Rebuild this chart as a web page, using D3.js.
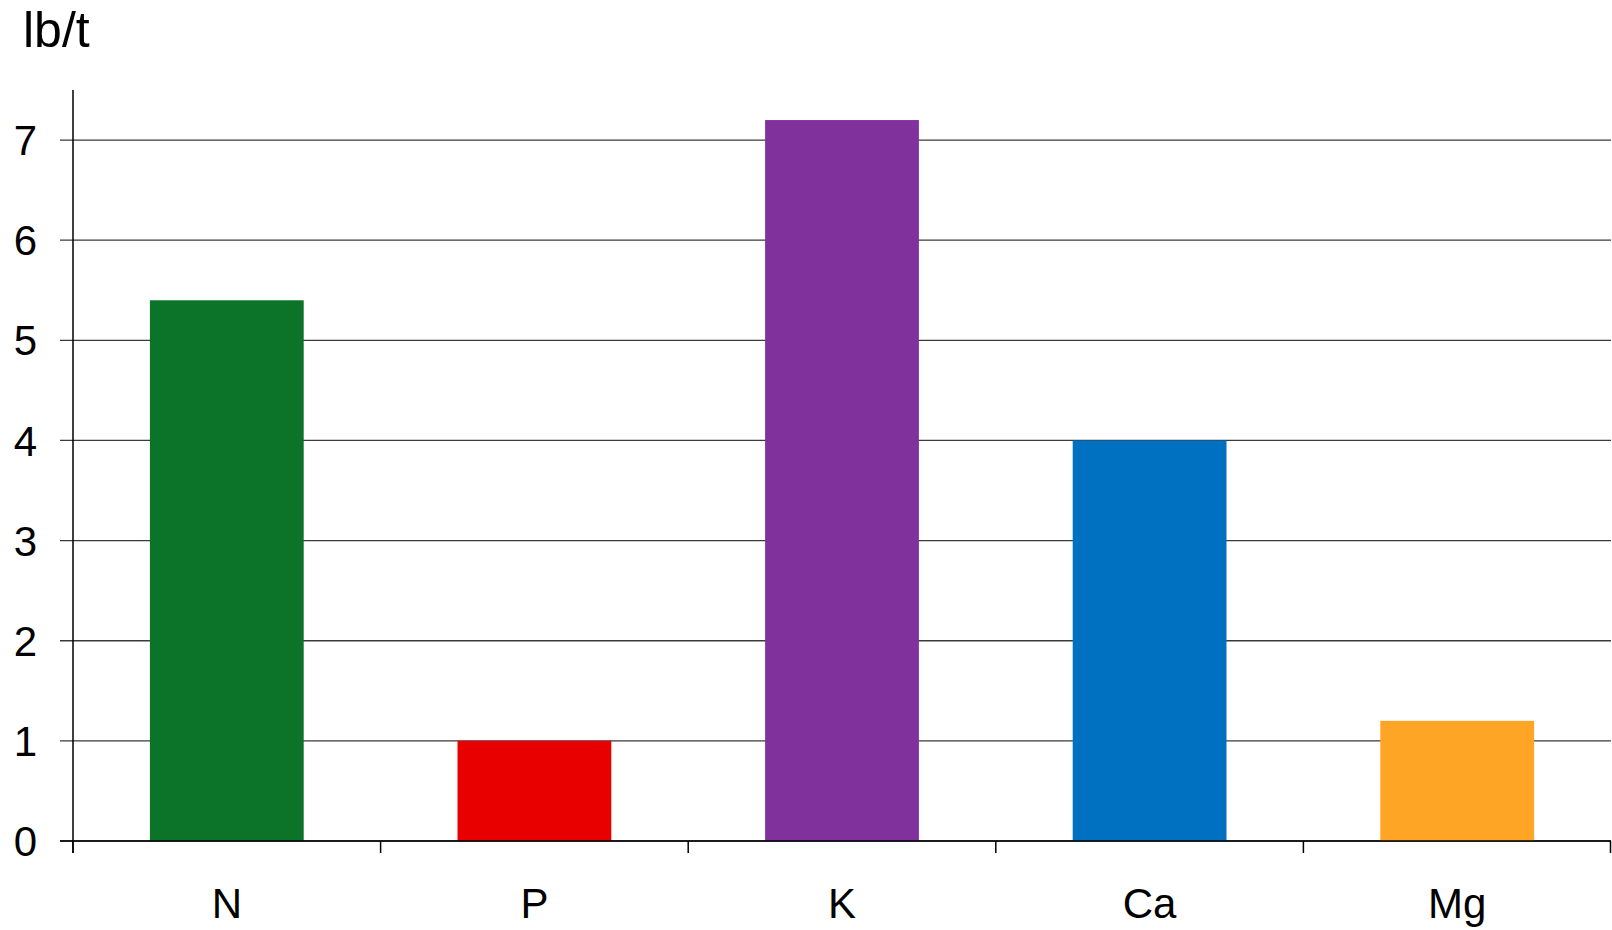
<!DOCTYPE html>
<html>
<head>
<meta charset="utf-8">
<script src="https://cdn.jsdelivr.net/npm/d3@7"></script>
<style>
  html, body { margin: 0; padding: 0; background: #fff; }
  svg { display: block; }
  text { font-family: "Liberation Sans", Arial, sans-serif; fill: #000; }
</style>
</head>
<body>
<svg id="chart" width="1612" height="930"></svg>
<script>
// Nutrient content, pounds per ton
const categories = ["N", "P", "K", "Ca", "Mg"];
const values = [5.4, 1.0, 7.2, 4.0, 1.2];
const colors = ["#0b7429", "#e80000", "#81319b", "#0070c0", "#ffa526"];
const yTicks = [0, 1, 2, 3, 4, 5, 6, 7];
const unitLabel = "lb/t";

const svg = d3.select("#chart");
const margin = { left: 73, right: 1, top: 90, bottom: 89 };
const W = 1612, H = 930;

const x = d3.scaleBand()
  .domain(categories)
  .range([margin.left, W - margin.right])
  .paddingInner(0)
  .paddingOuter(0);

const y = d3.scaleLinear()
  .domain([0, 7.5])
  .range([H - margin.bottom, margin.top]);

// Horizontal gridlines with left ticks
const grid = svg.append("g");
grid.selectAll("line")
  .data(yTicks)
  .enter().append("line")
  .attr("x1", margin.left - 13)
  .attr("x2", W - margin.right)
  .attr("y1", d => y(d))
  .attr("y2", d => y(d))
  .attr("stroke", "#3a3a3a")
  .attr("stroke-width", 1.3);

// Bars, half a band wide and centred in each band
const barW = x.bandwidth() * 0.5;
svg.append("g").selectAll("rect")
  .data(categories)
  .enter().append("rect")
  .attr("x", (d) => x(d) + x.bandwidth() / 2 - barW / 2)
  .attr("width", barW)
  .attr("y", (d, i) => y(values[i]))
  .attr("height", (d, i) => y(0) - y(values[i]))
  .attr("fill", (d, i) => colors[i]);

// Baseline
svg.append("line")
  .attr("x1", margin.left - 13).attr("x2", W - margin.right)
  .attr("y1", y(0)).attr("y2", y(0))
  .attr("stroke", "#000").attr("stroke-width", 1.5);

// Vertical axis line
svg.append("line")
  .attr("x1", margin.left).attr("x2", margin.left)
  .attr("y1", y(7.5)).attr("y2", y(0) + 12)
  .attr("stroke", "#000").attr("stroke-width", 1.5);

// Category boundary ticks
const bounds = categories.map(c => x(c)).concat([x(categories[categories.length - 1]) + x.bandwidth()]);
svg.append("g").selectAll("line")
  .data(bounds)
  .enter().append("line")
  .attr("x1", d => Math.min(d, W - 1.5)).attr("x2", d => Math.min(d, W - 1.5))
  .attr("y1", y(0)).attr("y2", y(0) + 12)
  .attr("stroke", "#000").attr("stroke-width", 1.5);

// Y tick labels
svg.append("g").selectAll("text")
  .data(yTicks)
  .enter().append("text")
  .attr("x", 37)
  .attr("y", d => y(d))
  .attr("dy", "0.36em")
  .attr("text-anchor", "end")
  .attr("font-size", 42)
  .text(d => d);

// Category labels
svg.append("g").selectAll("text")
  .data(categories)
  .enter().append("text")
  .attr("x", d => x(d) + x.bandwidth() / 2)
  .attr("y", 918)
  .attr("text-anchor", "middle")
  .attr("font-size", 42)
  .text(d => d);

// Unit label
svg.append("text")
  .attr("x", 23)
  .attr("y", 47)
  .attr("font-size", 50)
  .text(unitLabel);
</script>
</body>
</html>
